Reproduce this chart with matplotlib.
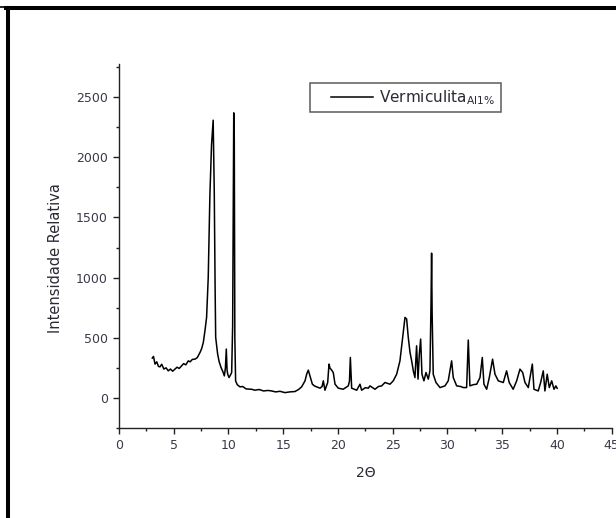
import matplotlib
matplotlib.use("Agg")
import matplotlib.pyplot as plt
from matplotlib.lines import Line2D
from matplotlib.legend_handler import HandlerLine2D
from matplotlib.ticker import MultipleLocator

# 2-theta (degrees) and relative intensity
two_theta = [
    3.04, 3.15, 3.29, 3.45, 3.6, 3.74, 3.9, 4.1, 4.3, 4.5, 4.7, 4.9, 5.11,
    5.3, 5.5, 5.72, 5.9, 6.1, 6.33, 6.5, 6.7, 6.94, 7.15, 7.4, 7.55, 7.7,
    7.85, 8.0, 8.15, 8.3, 8.45, 8.6, 8.7, 8.78, 8.83, 9.01, 9.15, 9.32,
    9.5, 9.62, 9.72, 9.8, 9.87, 9.93, 10.05, 10.18, 10.29, 10.38, 10.48,
    10.53, 10.58, 10.65, 10.8, 11.05, 11.3, 11.6, 12.1, 12.42, 12.8, 13.2,
    13.6, 13.94, 14.3, 14.7, 15.16, 15.6, 16.07, 16.4, 16.68, 16.99, 17.15,
    17.29, 17.44, 17.66, 17.85, 18.05, 18.36, 18.55, 18.66, 18.81, 19.06,
    19.18, 19.28, 19.36, 19.57, 19.73, 20.03, 20.48, 20.94, 21.05, 21.13,
    21.25, 21.71, 22.01, 22.16, 22.5, 22.77, 22.92, 23.38, 23.7, 23.99,
    24.29, 24.75, 25.05, 25.36, 25.66, 25.91, 26.12, 26.27, 26.42, 26.58,
    26.73, 26.88, 27.03, 27.18, 27.31, 27.43, 27.55, 27.67, 27.85, 28.04,
    28.25, 28.4, 28.5, 28.55, 28.6, 28.7, 28.95, 29.32, 29.77, 30.07,
    30.38, 30.53, 30.84, 31.2, 31.45, 31.75, 31.9, 32.05, 32.35, 32.67,
    32.97, 33.18, 33.33, 33.58, 33.82, 34.12, 34.34, 34.64, 35.1, 35.4,
    35.64, 36.0, 36.32, 36.62, 36.87, 37.08, 37.38, 37.75, 37.9, 38.29,
    38.51, 38.75, 38.9, 39.11, 39.3, 39.52, 39.73, 39.9, 40.02,
]
intensity = [
    331, 345, 281, 300, 262, 258, 280, 240, 250, 225, 240, 222, 239,
    255, 245, 267, 285, 275, 308, 300, 320, 322, 335, 378, 410, 461,
    558, 669, 1000, 1680, 2100, 2308, 1720, 900, 503, 364, 300, 253,
    215, 183, 250, 406, 230, 197, 169, 190, 211, 600, 2369,
    2142, 500, 142, 110, 92, 95, 75, 72, 64, 70, 58,
    62, 58, 50, 55, 44, 50, 53, 70, 92, 142, 200,
    231, 183, 114, 100, 92, 81, 95, 142, 64, 128,
    281, 245, 239, 211, 114, 81, 72, 100, 140, 336,
    81, 64, 114, 64, 85, 81, 100, 72, 95, 100,
    128, 114, 142, 197, 308, 503, 669, 656, 503, 378,
    308, 225, 169, 433, 156, 364, 489, 197, 142, 211,
    156, 225, 800, 1203, 700, 197, 128, 86, 100, 142,
    308, 169, 100, 95, 86, 86, 481, 100, 110, 114,
    169, 336, 114, 72, 169, 322, 197, 142, 128, 225,
    128, 72, 142, 239, 211, 128, 86, 281, 72, 58,
    128, 225, 58, 197, 86, 142, 72, 100, 80,
]

x_ticks = [0, 5, 10, 15, 20, 25, 30, 35, 40, 45]
y_ticks = [0, 500, 1000, 1500, 2000, 2500]
series_label = r"Vermiculita$_{\mathregular{Al1\%}}$" + "\u2003"

W, H = 616, 518
fig = plt.figure(figsize=(W / 100, H / 100), dpi=100)
fig.patch.set_facecolor("white")

ax = fig.add_axes([119 / W, 1 - 428 / H, (611.7 - 119) / W, (428 - 64) / H])
line, = ax.plot(two_theta, intensity, color="black", lw=1.1,
                label=series_label)

ax.set_xlim(0, 45)
ax.set_ylim(-250, 2775)
ax.set_xticks(x_ticks)
ax.set_yticks(y_ticks)
ax.xaxis.set_minor_locator(MultipleLocator(2.5))
ax.yaxis.set_minor_locator(MultipleLocator(250))

for side in ("top", "right"):
    ax.spines[side].set_visible(False)
for side in ("left", "bottom"):
    ax.spines[side].set_color("#222222")
    ax.spines[side].set_linewidth(1.0)

tick_col = "#3a3a4a"
ax.tick_params(which="major", direction="out", length=4, width=1.0,
               color="#222222", labelsize=9, labelcolor=tick_col, pad=4)
ax.tick_params(which="minor", direction="out", length=2.5, width=1.0,
               color="#222222")

ax.set_xlabel("2\u0398", fontsize=10, color="#2a2a35")
ax.set_ylabel("Intensidade Relativa", fontsize=10.5, color="#2a2a35")
ax.xaxis.set_label_coords(0.5, -0.105)
ax.yaxis.set_label_coords(-0.114, 0.467)

leg = ax.legend(
    handles=[line], loc="upper left",
    bbox_to_anchor=(310 / W, 1 - 83 / H), bbox_transform=fig.transFigure,
    fontsize=11, frameon=True, fancybox=False, shadow=False,
    borderpad=0.35, handlelength=3.75, handletextpad=0.4, borderaxespad=0,
    handler_map={line: HandlerLine2D(xpad=1.0)},
)
leg.get_frame().set_edgecolor("#333333")
leg.get_frame().set_linewidth(1.1)
for t in leg.get_texts():
    t.set_color("#2a2a35")

# scanned page frame (left and top edges only)
fig.add_artist(Line2D([7.5 / W, 7.5 / W], [0, 1 - 8 / H], color="black",
                      lw=2.9, transform=fig.transFigure))
fig.add_artist(Line2D([6 / W, 1], [1 - 8 / H, 1 - 8 / H], color="black",
                      lw=2.9, transform=fig.transFigure))
fig.add_artist(Line2D([0, 8 / W], [1 - 6.5 / H, 1 - 6.5 / H], color="black",
                      lw=1.2, transform=fig.transFigure))

fig.savefig("out.png", dpi=100)
